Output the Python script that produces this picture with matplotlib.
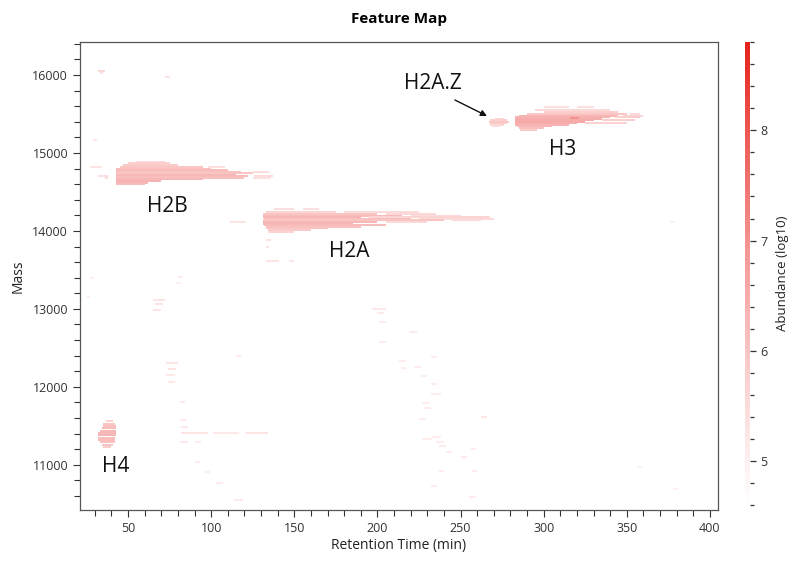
import matplotlib
matplotlib.use("Agg")
import matplotlib.pyplot as plt
import numpy as np
from matplotlib.collections import LineCollection
from matplotlib.colors import LinearSegmentedColormap, Normalize
from matplotlib.ticker import MultipleLocator

plt.rcParams['font.family'] = ['Open Sans', 'DejaVu Sans']

# Each feature: (rt_start_min, rt_end_min, mass_Da, log10_abundance)
h2b_features = [
    (55, 72, 14885, 5.6), (50, 75, 14865, 5.8), (47, 80, 14845, 5.9),
    (45, 95, 14820, 6.0), (98, 108, 14820, 5.4), (43, 100, 14800, 6.1),
    (43, 110, 14780, 6.2), (43, 118, 14760, 6.1), (125, 135, 14760, 5.5),
    (43, 125, 14740, 6.0), (43, 115, 14720, 6.3), (43, 122, 14700, 6.2),
    (126, 137, 14700, 5.5), (43, 120, 14680, 6.1), (125, 136, 14680, 5.4),
    (43, 95, 14660, 6.3), (43, 70, 14640, 6.4), (43, 62, 14620, 6.3),
    (43, 60, 14600, 6.2),
]

h2a_features = [
    (138, 150, 14280, 5.4), (155, 165, 14280, 5.4),
    (133, 175, 14240, 5.7), (180, 225, 14240, 5.5),
    (131, 200, 14215, 6.0), (205, 235, 14215, 5.6),
    (131, 215, 14195, 6.2), (220, 250, 14195, 5.6),
    (131, 190, 14175, 6.3), (195, 268, 14175, 5.7),
    (132, 220, 14155, 6.1), (225, 270, 14155, 5.6),
    (131, 240, 14135, 6.0), (245, 262, 14135, 5.5),
    (131, 200, 14115, 6.3), (205, 230, 14115, 5.6),
    (131, 185, 14095, 6.4), (132, 205, 14075, 6.2),
    (133, 190, 14055, 6.1), (133, 170, 14035, 6.0),
    (134, 160, 14010, 5.9), (134, 150, 13990, 5.7),
    (111, 121, 14115, 5.3), (133, 136, 13885, 5.4),
    (133, 135, 13800, 5.3), (133, 141, 13616, 5.3), (147, 150, 13616, 5.2),
]

h2az_features = [
    (271, 276, 15440, 5.6), (268, 278, 15420, 5.8), (267, 279, 15400, 6.0),
    (268, 278, 15380, 5.9), (268, 276, 15360, 5.7), (269, 274, 15340, 5.5),
]

h3_features = [
    (300, 315, 15590, 5.4), (320, 330, 15590, 5.4), (295, 340, 15550, 5.6),
    (300, 345, 15520, 5.8), (290, 350, 15500, 6.0), (352, 358, 15500, 5.6),
    (285, 345, 15480, 6.3), (348, 360, 15480, 5.7), (283, 340, 15460, 6.4),
    (343, 358, 15460, 5.8), (283, 335, 15440, 6.5), (316, 321, 15450, 7.0),
    (283, 330, 15420, 6.5), (335, 355, 15420, 5.8), (283, 325, 15400, 6.6),
    (283, 320, 15380, 6.5), (325, 350, 15380, 5.7), (283, 315, 15360, 6.4),
    (284, 305, 15340, 6.3), (285, 300, 15320, 6.1), (286, 296, 15300, 5.9),
]

h4_features = [
    (37, 41, 11560, 5.8), (35, 42, 11530, 6.0), (35, 43, 11500, 6.1),
    (34, 43, 11470, 6.2), (33, 43, 11440, 6.3), (32, 43, 11410, 6.3),
    (32, 43, 11380, 6.3), (32, 42, 11350, 6.2), (32, 42, 11320, 6.2),
    (33, 42, 11290, 6.1), (34, 41, 11260, 6.0), (35, 40, 11235, 5.8),
]

minor_features = [
    (32, 36, 16045, 5.6), (33, 35, 16025, 5.4), (72, 75, 15970, 5.3),
    (29, 31, 15170, 5.2), (27, 34, 14820, 5.3), (32, 38, 14700, 5.4),
    (36, 38, 14680, 5.5), (27, 29, 13400, 5.1), (25, 27, 13150, 5.1),
    (80, 83, 13410, 5.1), (79, 82, 13333, 5.0), (65, 72, 13110, 5.3),
    (66, 71, 13060, 5.3), (65, 70, 12990, 5.3), (73, 80, 12310, 5.3),
    (74, 79, 12230, 5.3), (73, 78, 12150, 5.2), (74, 78, 12060, 5.2),
    (81, 84, 11810, 5.2), (81, 85, 11570, 5.2), (82, 86, 11490, 5.2),
    (82, 98, 11410, 5.3), (101, 117, 11410, 5.2), (121, 134, 11410, 5.3),
    (81, 86, 11295, 5.2), (90, 94, 11295, 5.1), (90, 93, 11040, 5.1),
    (96, 99, 10910, 5.1), (103, 107, 10770, 5.1), (114, 119, 10550, 5.1),
    (115, 118, 12390, 5.1), (197, 205, 13000, 5.2), (200, 204, 12950, 5.1),
    (201, 205, 12835, 5.1), (201, 205, 12580, 5.1), (219, 224, 12705, 5.1),
    (213, 217, 12335, 5.1), (214, 217, 12245, 5.1), (222, 226, 12255, 5.1),
    (232, 236, 12385, 5.1), (226, 230, 12140, 5.1), (232, 236, 12040, 5.1),
    (232, 238, 11910, 5.1), (227, 231, 11795, 5.1), (228, 232, 11735, 5.1),
    (225, 229, 11590, 5.1), (262, 266, 11615, 5.2), (227, 233, 11335, 5.1),
    (233, 238, 11360, 5.1), (235, 240, 11295, 5.1), (237, 241, 11245, 5.1),
    (241, 245, 11165, 5.1), (250, 254, 11105, 5.1), (256, 259, 11205, 5.1),
    (237, 240, 10925, 5.1), (257, 260, 10925, 5.1), (232, 236, 10730, 5.1),
    (255, 259, 10590, 5.1), (356, 359, 10975, 5.0), (378, 381, 10690, 5.0),
    (376, 379, 14120, 5.0),
]

# Peak labels: (text, rt, mass)
peak_labels = [
    ("H2B", 73.5, 14308),
    ("H2A", 183.0, 13731),
    ("H3", 311.6, 15038),
    ("H4", 42.8, 10974),
]
h2az_label = ("H2A.Z", 233.4, 15897)
h2az_arrow_from = (246.6, 15679)
h2az_arrow_to = (265.9, 15474)

features = (h2b_features + h2a_features + h2az_features + h3_features
            + h4_features + minor_features)
rt_start = np.array([f[0] for f in features], dtype=float)
rt_end = np.array([f[1] for f in features], dtype=float)
mass = np.array([f[2] for f in features], dtype=float)
abundance = np.array([f[3] for f in features], dtype=float)

cmap = LinearSegmentedColormap.from_list(
    "abund", ["#ffffff", "#fbd6d5", "#f5a2a0", "#ee6762", "#e5221c"])
norm = Normalize(vmin=4.6, vmax=8.8)

fig = plt.figure(figsize=(7.91, 5.63), dpi=100)
ax = fig.add_axes([0.101, 0.094, 0.807, 0.831])

segments = [[(s, m), (e, m)] for s, e, m in zip(rt_start, rt_end, mass)]
lc = LineCollection(segments, cmap=cmap, norm=norm, linewidths=1.4)
lc.set_array(abundance)
ax.add_collection(lc)

ax.set_xlim(21, 405)
ax.set_ylim(10420, 16420)
ax.xaxis.set_major_locator(MultipleLocator(50))
ax.xaxis.set_minor_locator(MultipleLocator(10))
ax.yaxis.set_major_locator(MultipleLocator(1000))
ax.yaxis.set_minor_locator(MultipleLocator(200))
ax.tick_params(which='both', direction='out', colors='#333333',
               labelsize=9, width=0.8)
ax.tick_params(which='major', length=5)
ax.tick_params(which='minor', length=4)
for sp in ax.spines.values():
    sp.set_color('#555555')
    sp.set_linewidth(0.9)

ax.set_xlabel("Retention Time (min)", fontsize=10, color='#222222', labelpad=2)
ax.set_ylabel("Mass", fontsize=10, color='#222222', labelpad=5)
ax.set_title("Feature Map", fontsize=11, fontweight='bold', pad=14)

for text, x, y in peak_labels:
    ax.text(x, y, text, fontsize=15, ha='center', va='center', color='#111111')
ax.text(h2az_label[1], h2az_label[2], h2az_label[0], fontsize=15,
        ha='center', va='center', color='#111111')
ax.annotate("", xy=h2az_arrow_to, xytext=h2az_arrow_from,
            arrowprops=dict(arrowstyle='-|>', color='#111111', lw=1.0,
                            mutation_scale=9, shrinkA=0, shrinkB=0))

cax = fig.add_axes([0.942, 0.103, 0.0065, 0.822])
cb = fig.colorbar(lc, cax=cax)
cb.outline.set_visible(False)
cb.set_ticks([5, 6, 7, 8])
cb.ax.yaxis.set_minor_locator(MultipleLocator(0.2))
cb.ax.tick_params(which='both', direction='out', colors='#333333',
                  labelsize=9, width=0.9)
cb.ax.tick_params(which='major', length=4)
cb.ax.tick_params(which='minor', length=3)
cb.set_label("Abundance (log10)", fontsize=9.5, color='#222222', labelpad=6)

fig.savefig("out.png", dpi=100, facecolor='white')
